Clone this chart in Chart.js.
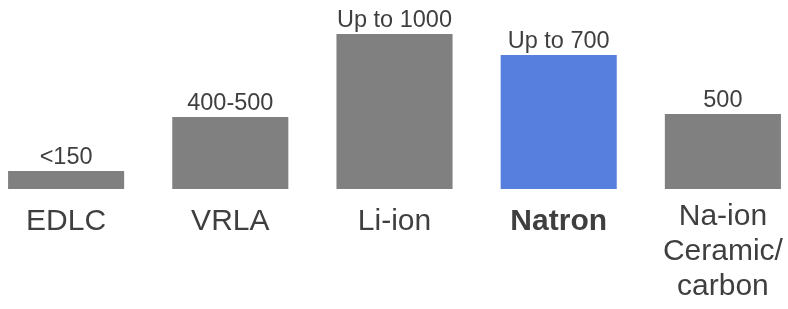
<!DOCTYPE html>
<html>
<head>
<meta charset="utf-8">
<script src="https://cdn.jsdelivr.net/npm/chart.js@4/dist/chart.umd.min.js"></script>
<style>
  html, body { margin: 0; padding: 0; background: #fff; }
  #wrap { position: relative; width: 788px; height: 309px; overflow: hidden; }
  #chart { position: absolute; left: -16px; top: 0; }
</style>
</head>
<body>
<div id="wrap"><canvas id="chart" width="821" height="309"></canvas></div>
<script>
// categories and values
const categories = [['EDLC'], ['VRLA'], ['Li-ion'], ['Natron'], ['Na-ion', 'Ceramic/', 'carbon']];
const barHeights = [18, 72, 155, 134, 75];   // relative bar heights as drawn
const valueLabels = ['<150', '400-500', 'Up to 1000', 'Up to 700', '500'];
const highlight = 'Natron';

const GREY = '#808080';
const BLUE = '#577fde';
const TEXT = '#3f3f3f';
const FONT = '"Liberation Sans", Arial, Helvetica, sans-serif';

//draws the value text above each bar
const valueLabelPlugin = {
    id: 'valueLabels',
    afterDatasetsDraw(chart) {
        const ctx = chart.ctx;
        const meta = chart.getDatasetMeta(0);
        ctx.save();
        ctx.font = '23.5px ' + FONT;
        ctx.fillStyle = TEXT;
        ctx.textAlign = 'center';
        ctx.textBaseline = 'alphabetic';
        meta.data.forEach((bar, i) => {
            ctx.fillText(valueLabels[i], bar.x, bar.y - 7.5);
        });
        ctx.restore();
    }
};

new Chart(document.querySelector('#chart').getContext('2d'), {
    type: 'bar',
    data: {
        labels: categories,
        datasets: [{
            data: barHeights,
            backgroundColor: categories.map(c => c[0] === highlight ? BLUE : GREY),
            borderWidth: 0,
            barPercentage: 0.707,
            categoryPercentage: 1
        }]
    },
    options: {
        responsive: false,
        animation: false,
        layout: { padding: 0 },
        plugins: {
            legend: { display: false },
            tooltip: { enabled: false }
        },
        scales: {
            x: {
                grid: { display: false, drawTicks: false },
                border: { display: false },
                afterFit(scale) { scale.height = 120; },
                ticks: {
                    color: TEXT,
                    padding: 10.5,
                    maxRotation: 0,
                    autoSkip: false,
                    // multi-line label sits a bit higher in the original
                    font: (ctx) => ({
                        family: FONT,
                        size: 30,
                        lineHeight: ctx.index === 4 ? '35px' : '45px',
                        weight: ctx.index === 3 ? 'bold' : 'normal'
                    })
                }
            },
            y: {
                display: false,
                min: 0,
                max: 189
            }
        }
    },
    plugins: [valueLabelPlugin]
});
</script>
</body>
</html>
